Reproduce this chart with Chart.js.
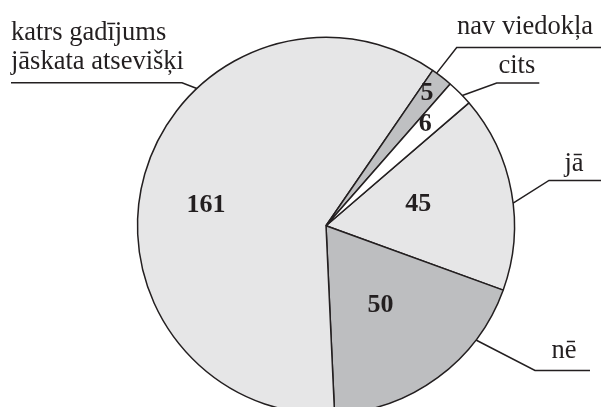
<!DOCTYPE html>
<html>
<head>
<meta charset="utf-8">
<script src="https://cdn.jsdelivr.net/npm/chart.js@4/dist/chart.umd.min.js"></script>
<style>
  html, body { margin: 0; padding: 0; background: #ffffff; overflow: hidden; width: 601px; height: 407px; }
  #wrap { position: absolute; left: 0; top: 0; width: 601px; height: 420px; }
</style>
</head>
<body>
<div id="wrap"><canvas id="c" width="601" height="420"></canvas></div>
<script>
// ---- data ----
const categories = ['jā', 'nē', 'katrs gadījums jāskata atsevišķi', 'nav viedokļa', 'cits'];
const values = [45, 50, 161, 5, 6];
const outerLabelLines = [['jā'], ['nē'], ['katrs gadījums', 'jāskata atsevišķi'], ['nav viedokļa'], ['cits']];

// ---- styles ----
const fillColors = ['#e6e6e7', '#bdbec0', '#e6e6e7', '#bfc0c2', '#ffffff'];
const ink = '#231f20';
const serif = '"Liberation Serif", "Times New Roman", serif';

// label layout (relative to arc geometry)
// value labels: angle delta (deg) from slice mid-angle, radius fraction
const valueLabelPlace = [
  { d: 1.5, f: 0.495 },
  { d: 4.0, f: 0.54 },
  { d: -9.2, f: 0.641 },
  { d: 0.85, f: 0.857 },
  { d: 0.95, f: 0.73 }
];
// leader lines: t = fraction along the arc where the line touches the edge,
// elbow offset from pie centre, horizontal end x, text anchor and baseline offset
const leaderPlace = [
  { t: 0.557, ex: 223, ey: -45.3, hx: 601, tx: 564.5, ty: -9 },
  { t: 0.257, ex: 209, ey: 144.7, hx: 590, tx: 551.5, ty: -12.4 },
  { t: 0.642, ex: -144, ey: -143, hx: 11, tx: 11, ty: -14 },
  { t: 0.22, ex: 130.7, ey: -178.3, hx: 601, tx: 457, ty: -13.7 },
  { t: 0.63, ex: 170.7, ey: -142.7, hx: 539.3, tx: 498.5, ty: -10 }
];

const labelPlugin = {
  id: 'pieLabels',
  afterDatasetsDraw(chart) {
    const ctx = chart.ctx;
    const meta = chart.getDatasetMeta(0);
    ctx.save();
    meta.data.forEach((arc, i) => {
      const { x, y, startAngle, endAngle, outerRadius } = arc.getProps(['x', 'y', 'startAngle', 'endAngle', 'outerRadius'], true);
      // value label
      const vp = valueLabelPlace[i];
      const mid = (startAngle + endAngle) / 2 + vp.d * Math.PI / 180;
      const vx = x + Math.cos(mid) * outerRadius * vp.f;
      const vy = y + Math.sin(mid) * outerRadius * vp.f;
      ctx.fillStyle = ink;
      ctx.font = 'bold 26px ' + serif;
      ctx.textAlign = 'center';
      ctx.textBaseline = 'alphabetic';
      ctx.fillText(String(values[i]), vx, vy);

      // leader line
      const lp = leaderPlace[i];
      const a = startAngle + (endAngle - startAngle) * lp.t;
      const px = x + Math.cos(a) * outerRadius;
      const py = y + Math.sin(a) * outerRadius;
      const elx = x + lp.ex;
      const ely = y + lp.ey;
      ctx.strokeStyle = ink;
      ctx.lineWidth = 1.5;
      ctx.beginPath();
      ctx.moveTo(px, py);
      ctx.lineTo(elx, ely);
      ctx.lineTo(lp.hx, ely);
      ctx.stroke();

      // outer text
      ctx.font = '26.5px ' + serif;
      ctx.textAlign = 'left';
      const lines = outerLabelLines[i];
      const lh = 29;
      lines.forEach((ln, k) => {
        const by = ely + lp.ty - (lines.length - 1 - k) * lh;
        ctx.fillText(ln, lp.tx, by);
      });
    });
    ctx.restore();
  }
};

new Chart(document.getElementById('c'), {
  type: 'pie',
  data: {
    labels: categories,
    datasets: [{
      data: values,
      backgroundColor: fillColors,
      borderColor: ink,
      borderWidth: 1.5,
      borderAlign: 'center'
    }]
  },
  options: {
    responsive: false,
    devicePixelRatio: 1,
    animation: false,
    rotation: 49.3,
    layout: { padding: { top: 36.5, bottom: 5, left: 136.5, right: 85.5 } },
    plugins: {
      legend: { display: false },
      tooltip: { enabled: false }
    }
  },
  plugins: [labelPlugin]
});
</script>
</body>
</html>
